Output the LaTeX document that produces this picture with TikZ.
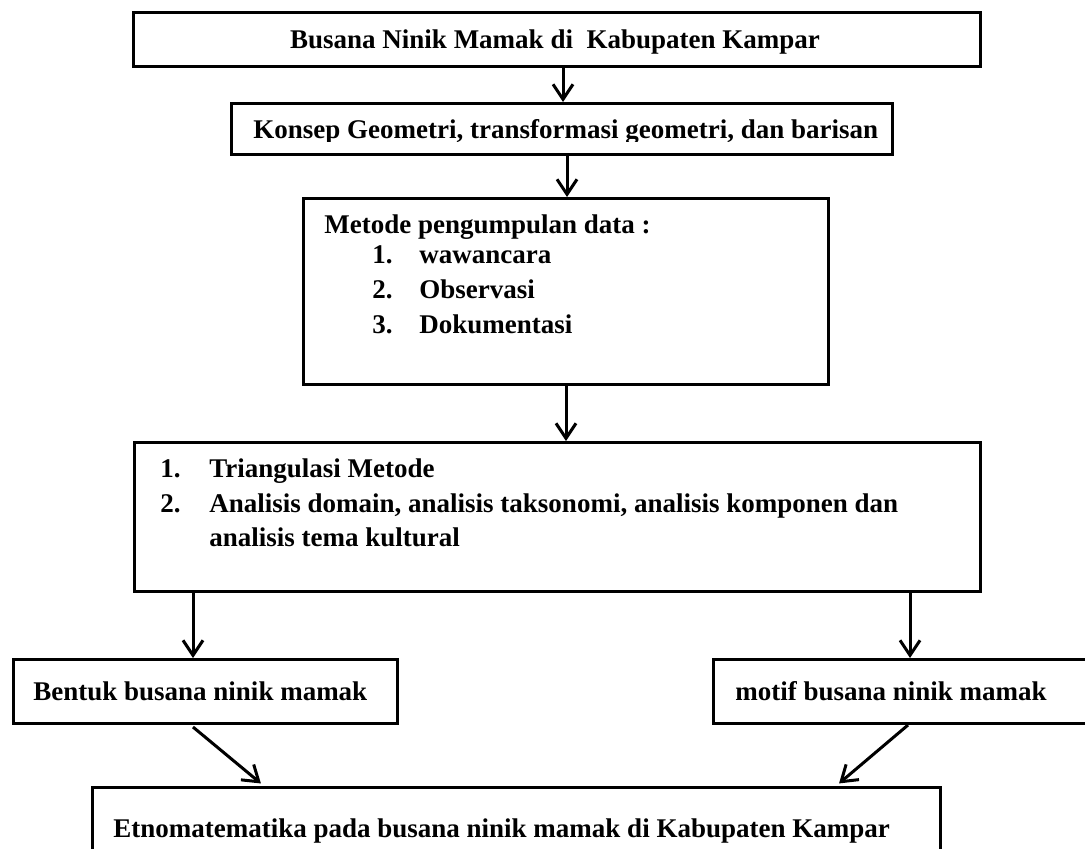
\documentclass[tikz,border=0pt]{standalone}
\usepackage{fontspec}
\setmainfont{Liberation Serif}
\usetikzlibrary{arrows.meta}
\tikzset{
  box/.style={draw=black, line width=1.6pt, inner sep=0pt, anchor=north west, fill=white},
  lbl/.style={anchor=base west, inner sep=0pt, font=\fontsize{13.5pt}{17pt}\selectfont\bfseries},
  arr/.style={line width=1.5pt, -{Straight Barb[length=7.5pt,width=10pt,line width=1.5pt]}}
}
\begin{document}
\begin{tikzpicture}[x=0.5pt, y=-0.5pt]
\useasboundingbox (0,0) rectangle (1085,848);
\clip (0,0) rectangle (1085,848);
% boxes
\node[box, minimum width=423.5pt, minimum height=27pt] (b1) at (132,11) {};
\node[box, minimum width=330.5pt, minimum height=25.5pt] (b2) at (230,102) {};
\node[box, minimum width=262.5pt, minimum height=93pt] (b3) at (302,197) {};
\node[box, minimum width=423pt, minimum height=74.5pt] (b4) at (133,441) {};
\node[box, minimum width=192pt, minimum height=32pt] (b5) at (12,658) {};
\node[box, minimum width=194pt, minimum height=32pt] (b6) at (712,658) {};
\node[box, minimum width=424pt, minimum height=42pt] (b7) at (91,786) {};
% texts
\node[lbl, anchor=base] (t1) at (555,48) {Busana Ninik Mamak di\ \ Kabupaten Kampar};
\begin{scope}
\clip (230,102) rectangle (891,141);
\node[lbl] (t2) at (253,138) {Konsep Geometri, transformasi geometri, dan barisan};
\end{scope}
\node[lbl] (t3) at (324,233) {Metode pengumpulan data :};
\node[lbl] (t3n1) at (372,263) {1.};
\node[lbl] (t3a) at (419,263) {wawancara};
\node[lbl] (t3n2) at (372,298) {2.};
\node[lbl] (t3b) at (419,298) {Observasi};
\node[lbl] (t3n3) at (372,333) {3.};
\node[lbl] (t3c) at (419,333) {Dokumentasi};
\node[lbl] (t4n1) at (160,477) {1.};
\node[lbl] (t4a) at (209,477) {Triangulasi Metode};
\node[lbl] (t4n2) at (160,512) {2.};
\node[lbl] (t4b) at (209,512) {Analisis domain, analisis taksonomi, analisis komponen dan};
\node[lbl] (t4c) at (209,546) {analisis tema kultural};
\node[lbl] (t5) at (33,700) {Bentuk busana ninik mamak};
\node[lbl] (t6) at (735,700) {motif busana ninik mamak};
\node[lbl] (t7) at (113,837) {Etnomatematika pada busana ninik mamak di Kabupaten Kampar};
% connectors
\coordinate (c1) at (563,0);
\coordinate (c2) at (567,0);
\coordinate (c3) at (566,0);
\coordinate (c4) at (193,0);
\coordinate (c5) at (910,0);
\draw[arr] (b1.south -| c1) -- (b2.north -| c1);
\draw[arr] (b2.south -| c2) -- (b3.north -| c2);
\draw[arr] (b3.south -| c3) -- (b4.north -| c3);
\draw[arr] (b4.south -| c4) -- (b5.north -| c4);
\draw[arr] (b4.south -| c5) -- (b6.north -| c5);
\coordinate (d1) at (193,727);
\coordinate (e1) at (264,0);
\coordinate (d2) at (908,725);
\coordinate (e2) at (836,0);
\draw[arr, shorten >=2pt] (d1) -- (e1 |- b7.north);
\draw[arr, shorten >=2pt] (d2) -- (e2 |- b7.north);
\end{tikzpicture}
\end{document}
